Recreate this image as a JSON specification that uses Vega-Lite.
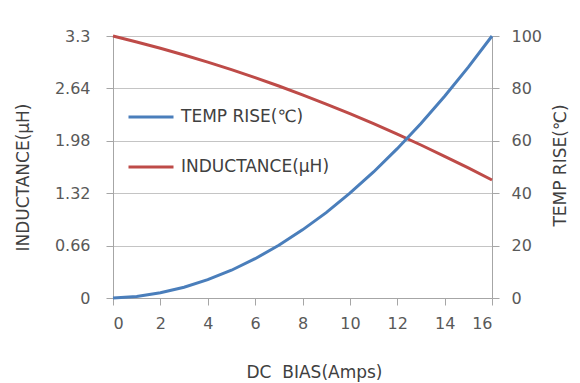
{
  "$schema": "https://vega.github.io/schema/vega-lite/v6.json",
  "width": 379,
  "height": 262,
  "autosize": "none",
  "padding": {"left": 113, "top": 36, "right": 88, "bottom": 85},
  "background": "white",
  "data": {
    "values": [
      {"bias": 0, "inductance": 3.30, "temp": 0},
      {"bias": 1, "inductance": 3.225, "temp": 0.6},
      {"bias": 2, "inductance": 3.146, "temp": 2},
      {"bias": 3, "inductance": 3.061, "temp": 4.1},
      {"bias": 4, "inductance": 2.971, "temp": 7},
      {"bias": 5, "inductance": 2.876, "temp": 10.6},
      {"bias": 6, "inductance": 2.775, "temp": 15},
      {"bias": 7, "inductance": 2.67, "temp": 20.1},
      {"bias": 8, "inductance": 2.559, "temp": 26},
      {"bias": 9, "inductance": 2.443, "temp": 32.6},
      {"bias": 10, "inductance": 2.322, "temp": 40},
      {"bias": 11, "inductance": 2.195, "temp": 48.1},
      {"bias": 12, "inductance": 2.064, "temp": 57},
      {"bias": 13, "inductance": 1.927, "temp": 66.6},
      {"bias": 14, "inductance": 1.785, "temp": 77},
      {"bias": 15, "inductance": 1.638, "temp": 88.1},
      {"bias": 16, "inductance": 1.486, "temp": 100}
    ]
  },
  "config": {
    "view": {"stroke": null},
    "font": "DejaVu Sans",
    "axis": {
      "labelColor": "#595959",
      "labelFontSize": 16,
      "titleColor": "#404040",
      "titleFontSize": 17,
      "titleFontWeight": "normal",
      "domainColor": "#A6A6A6",
      "tickColor": "#A6A6A6",
      "gridColor": "#C4C4C4",
      "tickSize": 7,
      "titleAlign": "center",
      "titleBaseline": "middle"
    },
    "legend": {
      "orient": "none",
      "legendX": 14,
      "legendY": 57,
      "padding": 0,
      "symbolType": "stroke",
      "symbolSize": 2025,
      "symbolStrokeWidth": 3,
      "labelFontSize": 17,
      "labelColor": "#404040",
      "labelOffset": 6,
      "rowPadding": 18,
      "title": null
    }
  },
  "layer": [
    {
      "mark": {"type": "line", "strokeWidth": 3},
      "encoding": {
        "x": {
          "field": "bias", "type": "quantitative",
          "scale": {"domain": [0, 16], "nice": false},
          "axis": {"values": [0, 2, 4, 6, 8, 10, 12, 14, 16], "grid": false, "title": "DC\u00a0 BIAS(Amps)", "labelPadding": 10, "titleX": 201, "titleY": 74}
        },
        "y": {
          "field": "inductance", "type": "quantitative",
          "scale": {"domain": [0, 3.3], "nice": false},
          "axis": {"orient": "left", "values": [0, 0.66, 1.32, 1.98, 2.64, 3.3], "labelExpr": "format(datum.value, '.2~f')", "grid": true, "title": "INDUCTANCE(μH)", "labelPadding": 16, "titleX": -90, "titleY": 141, "titleAngle": -90}
        },
        "color": {
          "datum": "INDUCTANCE(μH)",
          "scale": {"domain": ["TEMP RISE(℃)", "INDUCTANCE(μH)"], "range": ["#4A7EBB", "#BE4B48"]}
        }
      }
    },
    {
      "mark": {"type": "line", "strokeWidth": 3},
      "encoding": {
        "x": {"field": "bias", "type": "quantitative"},
        "y": {
          "field": "temp", "type": "quantitative",
          "scale": {"domain": [0, 100], "nice": false},
          "axis": {"orient": "right", "values": [0, 20, 40, 60, 80, 100], "grid": false, "title": "TEMP RISE(℃)", "titleAngle": -90, "labelPadding": 12, "titleX": 68, "titleY": 129}
        },
        "color": {"datum": "TEMP RISE(℃)"}
      }
    }
  ],
  "resolve": {"scale": {"y": "independent"}}
}
